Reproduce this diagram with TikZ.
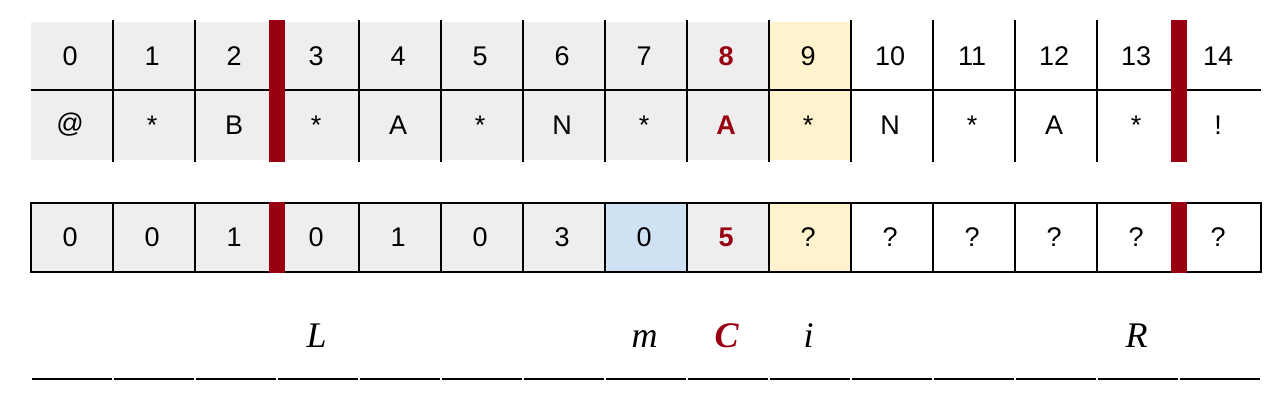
\documentclass[tikz,border=0pt]{standalone}
\usepackage{fontspec}
\setmainfont{Liberation Sans}
\newfontfamily\serifit{Liberation Serif}
\definecolor{cgray}{HTML}{EEEEEE}
\definecolor{cyel}{HTML}{FFF2CC}
\definecolor{cblue}{HTML}{CFE2F3}
\definecolor{cred}{HTML}{990012}
\newcommand{\xz}{30.7}
\begin{document}
\begin{tikzpicture}[x=1pt,y=1pt,
  cellA/.style={minimum width=82pt, minimum height=68pt, inner sep=0pt, outer sep=0pt, font=\fontsize{27}{27}\selectfont},
  cellB/.style={minimum width=82pt, minimum height=70pt, inner sep=0pt, outer sep=0pt, font=\fontsize{27}{27}\selectfont},
  cellC/.style={minimum width=82pt, minimum height=69pt, inner sep=0pt, outer sep=0pt, font=\fontsize{27}{27}\selectfont},
  lab/.style={anchor=base, inner sep=0pt, font=\fontsize{36}{36}\selectfont\serifit\itshape},
  grid/.style={line width=2pt, black},
  bar/.style={fill=cred, draw=none}]
\useasboundingbox (0,0) rectangle (1285,406);
% top table: index row
\foreach \t/\c [count=\i from 0] in {0/cgray,1/cgray,2/cgray,3/cgray,4/cgray,5/cgray,6/cgray,7/cgray,{\bfseries\color{cred}8}/cgray,9/cyel,10/white,11/white,12/white,13/white,14/white}
  \node[cellA, fill=\c] (t\i) at ({\xz+82*\i+41},350) {\t\hspace*{3pt}};
% top table: characters
\foreach \t/\c [count=\i from 0] in {@/cgray,*/cgray,B/cgray,*/cgray,A/cgray,*/cgray,N/cgray,*/cgray,{\bfseries\color{cred}A}/cgray,*/cyel,N/white,*/white,A/white,*/white,!/white}
  \node[cellB, fill=\c] (s\i) at ({\xz+82*\i+41},281) {\t\hspace*{3pt}};
% second table
\foreach \t/\c [count=\i from 0] in {0/cgray,0/cgray,1/cgray,0/cgray,1/cgray,0/cgray,3/cgray,0/cblue,{\bfseries\color{cred}5}/cgray,?/cyel,?/white,?/white,?/white,?/white,?/white}
  \node[cellC, fill=\c] (p\i) at ({\xz+82*\i+41},168.5) {\t\hspace*{3pt}};
% grid lines top
\draw[grid] (t0.south west) -- (t14.south east);
\foreach \i in {1,...,14}
  \draw[grid] ({\xz+82*\i},386) -- ({\xz+82*\i},244);
% grid lines second
\draw[grid] (p0.south west) rectangle (p14.north east);
\foreach \i in {1,...,14}
  \draw[grid] ({\xz+82*\i},134) -- ({\xz+82*\i},203);
% red bars
\fill[bar] (269,244) rectangle (285,386);
\fill[bar] (1171,244) rectangle (1187,386);
\fill[bar] (269,133) rectangle (285,204);
\fill[bar] (1171,133) rectangle (1187,204);
% bottom labels
\node[lab] (lL) at ({\xz+82*3+40},58) {L};
\node[lab] (lm) at ({\xz+82*7+40},58) {m};
\node[lab, text=cred] (lC) at ({\xz+82*8+40},58) {\bfseries C};
\node[lab] (li) at ({\xz+82*9+40},58) {i};
\node[lab] (lR) at ({\xz+82*13+40},58) {R};
\foreach \i in {0,...,14}
  \draw[grid] ({\xz+82*\i+1},27) -- ({\xz+82*\i+81},27);
\end{tikzpicture}
\end{document}
